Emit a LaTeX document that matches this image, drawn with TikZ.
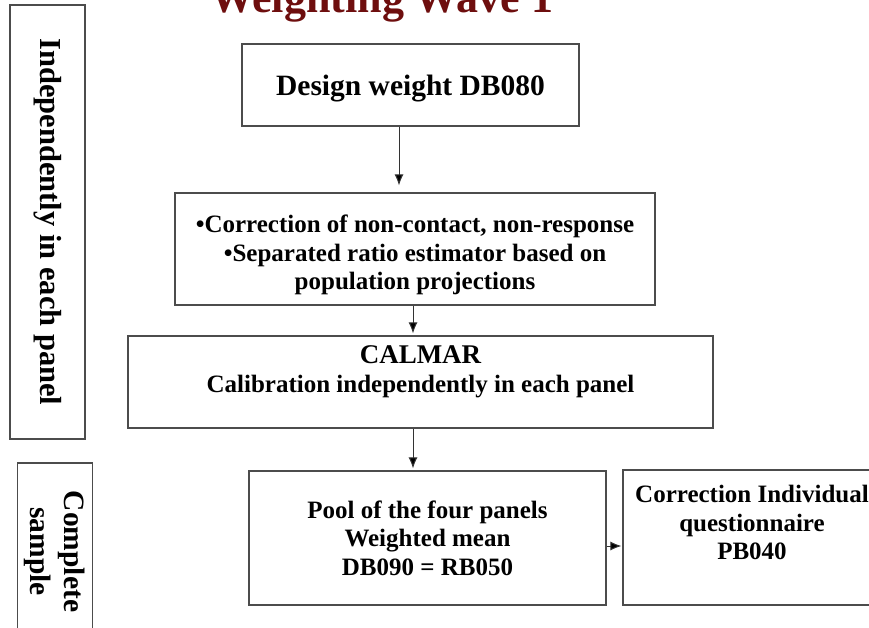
\documentclass[tikz,border=0pt]{standalone}
\usepackage{fontspec}
\setmainfont{Liberation Serif}
\usepackage{xcolor}
\usetikzlibrary{arrows.meta}

\definecolor{titlered}{RGB}{110,14,14}

\tikzset{
  box/.style={draw=black!70, line width=1.1pt, inner sep=0pt},
  flow/.style={draw=black!80, line width=1pt, -{Latex[length=11pt,width=9pt,fill=black]}},
  boxtext/.style={font=\fontsize{25}{28.5}\selectfont\bfseries, align=center, inner sep=0pt},
  sidetext/.style={font=\fontsize{29.5}{34}\selectfont\bfseries, align=center},
}

\begin{document}
\begin{tikzpicture}[x=1pt, y=-1pt]
                \useasboundingbox (0,0) rectangle (869,628);

                %% title
                \node[anchor=base, text=titlered, font=\fontsize{44}{50}\selectfont\bfseries] (title) at (382,13) {Weighting Wave 1};

                %% side panels
                \node[box, sidetext, font=\fontsize{30.5}{34}\selectfont\bfseries, rotate=-90, minimum width=434, minimum height=75] (indep) at (47.5,222) {Independently in each panel};
                \node[box, sidetext, rotate=-90, minimum width=177, minimum height=75] (complete) at (55,551.5) {Complete\\sample};

                %% design weight
                \node[box, minimum width=337, minimum height=82, text depth=0pt, font=\fontsize{29.5}{34}\selectfont\bfseries] (design) at (410.5,85) {Design weight DB080};

                %% corrections
                \node[box, minimum width=480, minimum height=112] (corr) at (415,249) {};
                \node[boxtext] (corrtext) at (415,255) {\textbullet Correction of non-contact, non-response\\\textbullet Separated ratio estimator based on\\population projections};

                %% calmar
                \node[box, minimum width=585, minimum height=92] (calmar) at (420.5,382) {};
                \node[anchor=base, font=\fontsize{27}{30}\selectfont\bfseries] (calmartitle) at (420.5,363) {CALMAR};
                \node[anchor=base, boxtext] (calmarsub) at (420.5,392) {Calibration independently in each panel};

                %% pool
                \node[box, boxtext, minimum width=357, minimum height=134] (pool) at (427.5,538) {Pool of the four panels\\Weighted mean\\DB090 = RB050};

                %% individual questionnaire
                \node[box, minimum width=262, minimum height=135] (pb) at (754,537.5) {};
                \node[boxtext, anchor=north] (pbtext) at (752,485) {Correction Individual\\questionnaire\\PB040};

                %% arrows
                \coordinate (a1) at ([xshift=-11.5pt]design.south);
                \draw[flow, shorten >=7pt] (a1) -- (a1 |- corr.north);

                \coordinate (a2) at ([xshift=-2pt]corr.south);
                \draw[flow, shorten >=2pt] (a2) -- (a2 |- calmar.north);

                \coordinate (a3) at ([xshift=-7.5pt]calmar.south);
                \draw[flow, shorten >=2pt] (a3) -- (a3 |- pool.north);

                \coordinate (a4) at ([yshift=-8pt]pool.east);
                \draw[flow, shorten >=1pt] (a4) -- (a4 -| pb.west);

\end{tikzpicture}
\end{document}
